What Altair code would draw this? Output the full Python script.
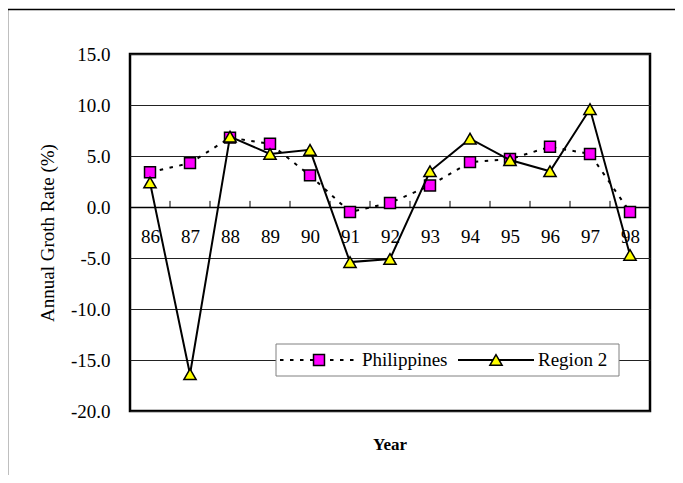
import altair as alt
import pandas as pd

years = [86, 87, 88, 89, 90, 91, 92, 93, 94, 95, 96, 97, 98]
philippines = [3.4, 4.3, 6.8, 6.2, 3.1, -0.5, 0.4, 2.1, 4.4, 4.7, 5.9, 5.2, -0.5]
region2 = [2.4, -16.4, 6.9, 5.2, 5.6, -5.4, -5.1, 3.5, 6.7, 4.6, 3.5, 9.6, -4.7]
y_ticks = [-20, -15, -10, -5, 0, 5, 10, 15]

FONT = "'Times New Roman', 'Liberation Serif', serif"
W, H = 520, 357

df = pd.DataFrame({"year": years, "Philippines": philippines, "Region 2": region2})
# tick marks sit between categories on the zero line
bounds = pd.DataFrame({"year": [(a + b) / 2 for a, b in zip(years[:-1], years[1:])]})
bounds["y0"] = 0.0
bounds["y1"] = 0.6

xscale = alt.Scale(domain=[years[0] - 0.5, years[-1] + 0.5], nice=False, zero=False)
yscale = alt.Scale(domain=[y_ticks[0], y_ticks[-1]], nice=False, zero=False)

xaxis = alt.Axis(values=years, format="d", orient="bottom", offset=-204, title=None,
                 grid=False, ticks=False, tickSize=0, domain=True, domainColor="black",
                 domainWidth=1.5, labelFont=FONT, labelFontSize=19, labelColor="black",
                 labelPadding=29, labelBaseline="middle")
yaxis = alt.Axis(values=y_ticks, title="Annual Groth Rate (%)", grid=True,
                 labelExpr="(datum.value < 0 ? '-' : '') + format(abs(datum.value), '.1f')",
                 gridColor="#222222", gridWidth=1, ticks=False, tickSize=0, domain=False,
                 labelFont=FONT, labelFontSize=19, labelColor="black", labelPadding=20,
                 titleFont=FONT, titleFontSize=19, titleFontWeight="normal",
                 titleColor="black", titlePadding=13)

base = alt.Chart(df)

phil_line = base.mark_line(color="black", strokeWidth=2, strokeDash=[3.5, 6.5]).encode(
    x=alt.X("year:Q", scale=xscale, axis=xaxis),
    y=alt.Y("Philippines:Q", scale=yscale, axis=yaxis),
)
phil_pts = base.mark_point(shape="square", filled=True, fill="#FF00FF", stroke="black",
                           strokeWidth=1.5, size=120, opacity=1).encode(
    x=alt.X("year:Q", scale=xscale, axis=xaxis),
    y=alt.Y("Philippines:Q", scale=yscale, axis=yaxis),
)
reg_line = base.mark_line(color="black", strokeWidth=2).encode(
    x=alt.X("year:Q", scale=xscale, axis=xaxis),
    y=alt.Y("Region 2:Q", scale=yscale, axis=yaxis),
)
reg_pts = base.mark_point(shape="triangle-up", filled=True, fill="#FFFF00", stroke="black",
                          strokeWidth=1.5, size=150, opacity=1).encode(
    x=alt.X("year:Q", scale=xscale, axis=xaxis),
    y=alt.Y("Region 2:Q", scale=yscale, axis=yaxis),
)
ticks = alt.Chart(bounds).mark_rule(color="black", strokeWidth=1).encode(
    x=alt.X("year:Q", scale=xscale, axis=xaxis),
    y=alt.Y("y0:Q", scale=yscale, axis=yaxis),
    y2="y1:Q",
)

one = pd.DataFrame({"k": [0]})
LY = 306
legend_box = alt.Chart(one).mark_rect(fill="white", stroke="#808080", strokeWidth=1).encode(
    x=alt.value(146), x2=alt.value(489), y=alt.value(290), y2=alt.value(322))
leg_l1 = alt.Chart(one).mark_rule(color="black", strokeWidth=2, strokeDash=[3.5, 6.5]).encode(
    x=alt.value(150), x2=alt.value(228), y=alt.value(LY))
leg_p1 = alt.Chart(one).mark_point(shape="square", filled=True, fill="#FF00FF", stroke="black",
                                   strokeWidth=1.5, size=120, opacity=1).encode(
    x=alt.value(189), y=alt.value(LY))
leg_t1 = alt.Chart(pd.DataFrame({"t": ["Philippines"]})).mark_text(
    font=FONT, fontSize=19, color="black", align="left", baseline="middle").encode(
    x=alt.value(232), y=alt.value(LY), text="t:N")
leg_l2 = alt.Chart(one).mark_rule(color="black", strokeWidth=2).encode(
    x=alt.value(328), x2=alt.value(404), y=alt.value(LY))
leg_p2 = alt.Chart(one).mark_point(shape="triangle-up", filled=True, fill="#FFFF00", stroke="black",
                                   strokeWidth=1.5, size=150, opacity=1).encode(
    x=alt.value(366), y=alt.value(LY))
leg_t2 = alt.Chart(pd.DataFrame({"t": ["Region 2"]})).mark_text(
    font=FONT, fontSize=19, color="black", align="left", baseline="middle").encode(
    x=alt.value(408), y=alt.value(LY), text="t:N")

xtitle = alt.Chart(pd.DataFrame({"t": ["Year"]})).mark_text(
    font=FONT, fontSize=17, fontWeight="bold", color="black", align="center",
    baseline="middle").encode(x=alt.value(W / 2), y=alt.value(391), text="t:N")

frame_left = alt.Chart(one).mark_rule(color="black", strokeWidth=1.5).encode(
    x=alt.value(-122.5), y=alt.value(-44.5), y2=alt.value(H + 80))
frame_top = alt.Chart(one).mark_rule(color="black", strokeWidth=1.5).encode(
    x=alt.value(-122.5), x2=alt.value(W + 60), y=alt.value(-44.5))

chart = alt.layer(
    ticks, phil_line, phil_pts, reg_line, reg_pts,
    legend_box, leg_l1, leg_p1, leg_t1, leg_l2, leg_p2, leg_t2,
    xtitle, frame_left, frame_top,
).properties(
    width=W, height=H,
    autosize=alt.AutoSizeParams(type="none"),
    padding={"left": 122, "top": 46, "right": 25, "bottom": 64},
    background="white",
).configure_view(stroke="black", strokeWidth=2.5)

chart.save("out.html", embed_options={"renderer": "svg", "actions": False})
